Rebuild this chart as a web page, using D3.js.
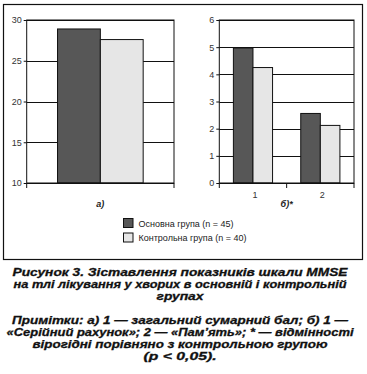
<!DOCTYPE html>
<html>
<head>
<meta charset="utf-8">
<script src="https://cdn.jsdelivr.net/npm/d3@7"></script>
<style>
  body { margin: 0; background: #fff; }
  svg { display: block; font-family: "Liberation Sans", Arial, sans-serif; }
</style>
</head>
<body>
<svg width="367" height="374"></svg>
<script>
// data
const groups = ["Основна група (n = 45)", "Контрольна група (n = 40)"];
const colors = ["#575757", "#e6e6e6"];

// панель а) — загальний сумарний бал
const catsA = ["1"];
const mainA = [28.9];
const controlA = [27.6];
const ticksA = [10, 15, 20, 25, 30];

// панель б) — «Серійний рахунок», «Пам'ять»
const catsB = ["1", "2"];
const mainB = [4.97, 2.56];
const controlB = [4.25, 2.12];
const ticksB = [0, 1, 2, 3, 4, 5, 6];

const caption = [
  "Рисунок 3. Зіставлення показників шкали MMSE",
  "на тлі лікування у хворих в основній і контрольній",
  "групах"
];
const notes = [
  "Примітки: а) 1 — загальний сумарний бал; б) 1 —",
  "«Серійний рахунок»; 2 — «Пам’ять»; * — відмінності",
  "вірогідні порівняно з контрольною групою",
  "(p < 0,05)."
];

const svg = d3.select("svg");

// outer frame
svg.append("rect")
  .attr("x", 3.5).attr("y", 4.5)
  .attr("width", 359).attr("height", 255)
  .attr("fill", "none").attr("stroke", "#111").attr("stroke-width", 1.2);

function panel(cats, main, control, ticks, left, right, label, showCats) {
  const top = 20, bottom = 183;
  const y = d3.scaleLinear().domain([ticks[0], ticks[ticks.length - 1]]).range([bottom, top]);
  const x0 = d3.scaleBand().domain(cats).range([left, right]);
  const x1 = d3.scaleBand().domain(groups).range([0, x0.bandwidth()]).paddingOuter(0.72);
  const g = svg.append("g");

  // gridlines
  g.selectAll(".grid").data(ticks).enter().append("line")
    .attr("x1", left).attr("x2", right)
    .attr("y1", d => Math.round(y(d)) + 0.5).attr("y2", d => Math.round(y(d)) + 0.5)
    .attr("stroke", "#111").attr("stroke-width", 1);

  // bars
  const rows = cats.map((c, i) => ({ c, vals: [main[i], control[i]] }));
  rows.forEach(r => {
    g.selectAll(null).data(r.vals).enter().append("rect")
      .attr("x", (d, j) => x0(r.c) + x1(groups[j]))
      .attr("y", d => y(d))
      .attr("width", x1.bandwidth())
      .attr("height", d => bottom - y(d))
      .attr("fill", (d, j) => colors[j])
      .attr("stroke", "#111").attr("stroke-width", 1);
  });

  // plot frame
  g.append("rect")
    .attr("x", left).attr("y", top)
    .attr("width", right - left).attr("height", bottom - top)
    .attr("fill", "none").attr("stroke", "#111").attr("stroke-width", 1);

  // y axis
  const ay = g.append("g").attr("transform", `translate(${left},0)`)
    .call(d3.axisLeft(y).tickValues(ticks).tickFormat(d3.format("d")).tickSize(3).tickPadding(2));
  ay.select(".domain").remove();
  ay.selectAll("line").attr("stroke", "#111");
  ay.selectAll("text").attr("font-size", 9).attr("fill", "#333");

  // x ticks at band edges
  const edges = cats.map(c => x0(c)).concat([right]);
  g.selectAll(".xt").data(edges).enter().append("line")
    .attr("x1", d => d).attr("x2", d => d)
    .attr("y1", bottom).attr("y2", bottom + 5)
    .attr("stroke", "#111");
  if (showCats) {
    g.selectAll(".xl").data(cats).enter().append("text")
      .attr("x", d => x0(d) + x0.bandwidth() / 2 + 2)
      .attr("y", 198)
      .attr("text-anchor", "middle")
      .attr("font-size", 9).attr("fill", "#333")
      .text(d => d);
  }
  g.append("text")
    .attr("x", (left + right) / 2 + 0)
    .attr("y", 207)
    .attr("text-anchor", "middle")
    .attr("font-size", 9).attr("font-weight", "bold").attr("font-style", "italic")
    .attr("fill", "#222")
    .text(label);
}

panel(catsA, mainA, controlA, ticksA, 26.7, 174, "а)", false);
panel(catsB, mainB, controlB, ticksB, 219.3, 354, "б)*", true);

// legend
const leg = svg.append("g").attr("transform", "translate(123.5,218.5)");
leg.selectAll("rect").data(groups).enter().append("rect")
  .attr("x", 0).attr("y", (d, i) => i * 14.5)
  .attr("width", 9.5).attr("height", 9)
  .attr("fill", (d, i) => colors[i])
  .attr("stroke", "#111").attr("stroke-width", 1);
leg.selectAll("text").data(groups).enter().append("text")
  .attr("x", 15).attr("y", (d, i) => i * 14.5 + 8)
  .attr("font-size", 9).attr("fill", "#222")
  .text(d => d);

// caption
const capWidths = [335, 333, 47];
const noteWidths = [336, 347, 295, 73];
function block(lines, widths, y0) {
  svg.append("g").selectAll("text").data(lines).enter().append("text")
    .attr("x", 180).attr("y", (d, i) => y0 + i * 12)
    .attr("text-anchor", "middle")
    .attr("font-size", 11).attr("font-weight", "bold").attr("font-style", "italic")
    .attr("fill", "#111").attr("stroke", "#111").attr("stroke-width", 0.3)
    .attr("textLength", (d, i) => widths[i])
    .attr("lengthAdjust", "spacingAndGlyphs")
    .text(d => d);
}
block(caption, capWidths, 276);
block(notes, noteWidths, 323.5);
</script>
</body>
</html>
